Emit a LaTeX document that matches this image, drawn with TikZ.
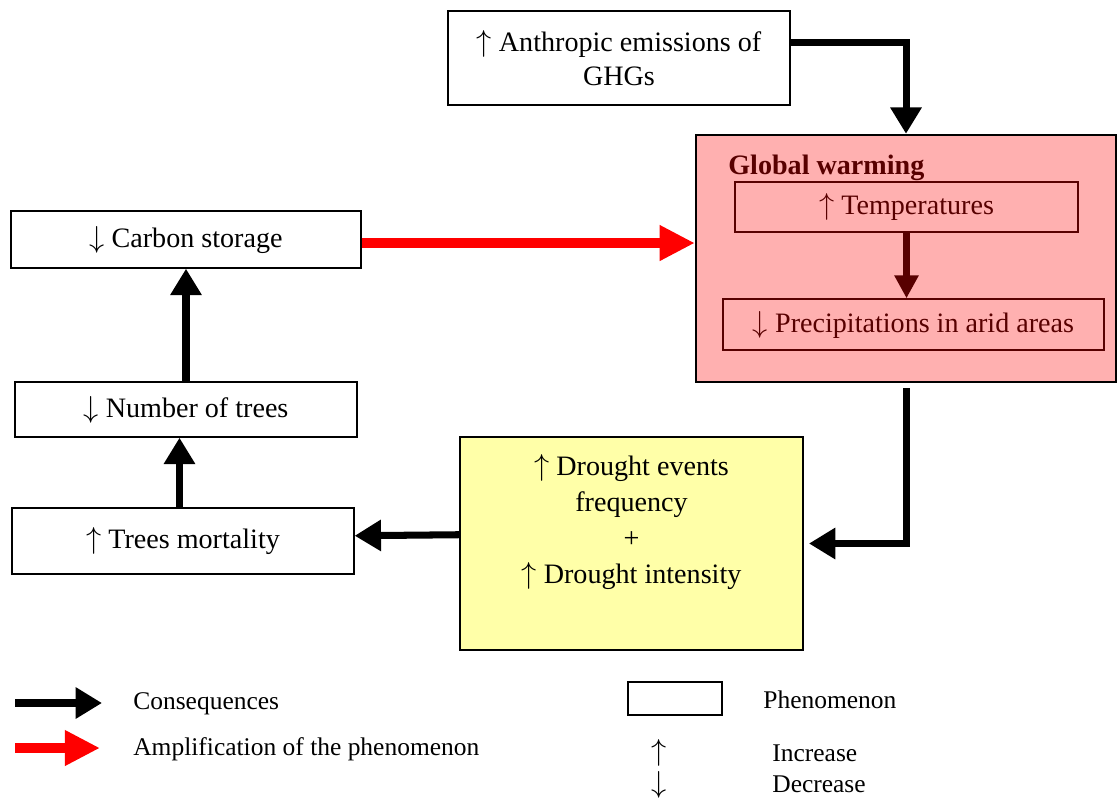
\documentclass[tikz,border=0pt]{standalone}
\usepackage{fontspec}
\setmainfont{Liberation Serif}
\usetikzlibrary{arrows.meta, positioning}

\definecolor{warmpink}{RGB}{255,176,176}
\definecolor{darkred}{RGB}{88,0,0}
\definecolor{droughtyellow}{RGB}{255,255,168}

\newcommand{\incr}{$\uparrow$}
\newcommand{\decr}{$\downarrow$}

\begin{document}
\begin{tikzpicture}[x=0.02cm,y=-0.02cm]

\tikzset{box/.style = {draw, line width=0.8pt, inner sep=0pt, align=center, font=\fontsize{16}{19.5}\selectfont}}
\tikzset{subbox/.style = {box, draw=darkred, text=darkred}}
\tikzset{conseq/.style = {line width=4pt, -{Triangle[length=15pt,width=17pt]}}}
\tikzset{ampli/.style = {red, line width=5.5pt, -{Triangle[length=20pt,width=19pt]}}}
\tikzset{inner/.style = {darkred, line width=4pt, -{Triangle[length=13pt,width=13pt]}}}
\tikzset{legend/.style = {anchor=west, inner sep=0pt, font=\fontsize{14.5}{17}\selectfont}}

\useasboundingbox (0,0) rectangle (1118,798);

% boxes
\node[box, minimum width=6.84cm, minimum height=1.88cm] (ghg) at (619,58) {\incr{} Anthropic emissions of\\GHGs};
\node[box, fill=warmpink, line width=1.4pt, minimum width=8.4cm, minimum height=4.94cm] (warming) at (906,258.5) {};
\node[anchor=west, inner sep=0pt, text=darkred, font=\fontsize{16}{20}\selectfont\bfseries] (title) at (728,168) {Global warming};
\node[subbox, minimum width=6.86cm, minimum height=1.0cm] (temp) at (906.5,207) {\incr{} Temperatures};
\node[subbox, minimum width=7.62cm, minimum height=1.02cm] (precip) at (913.5,324.5) {\decr{} Precipitations in arid areas};
\node[box, minimum width=7.0cm, minimum height=1.14cm] (carbon) at (186,239.5) {\decr{} Carbon storage};
\node[box, minimum width=6.84cm, minimum height=1.1cm] (trees) at (186,409.5) {\decr{} Number of trees};
\node[box, minimum width=6.84cm, minimum height=1.32cm] (mortality) at (183,541) {\incr{} Trees mortality};
\node[box, fill=droughtyellow, minimum width=6.86cm, minimum height=4.26cm] (drought) at (631.5,543.5) {};
\node[align=center, inner sep=0pt, font=\fontsize{16}{20.5}\selectfont] (droughttxt) at (631.5,522) {\incr{} Drought events\\frequency\\+\\\incr{} Drought intensity};

% arrows
\draw[conseq] ([yshift=9pt]ghg.east) -| (warming.north);
\draw[inner] (temp.south) -- (temp.south |- precip.north);
\draw[ampli] ([yshift=-2pt]carbon.east) -- ([yshift=-2pt]carbon.east -| warming.west);
\draw[conseq, shorten <=3pt, shorten >=3pt] (warming.south) |- (drought.east);
\draw[conseq] ([yshift=5pt]drought.west) -- ([yshift=3pt]mortality.east);
\draw[conseq] ([xshift=-2pt]mortality.north) -- ([xshift=-2pt]mortality.north |- trees.south);
\draw[conseq] (trees.north) -- (carbon.south);

% legend
\coordinate (cons1) at (15,703);
\coordinate (cons2) at (102,703);
\coordinate (ampl1) at (15,748);
\coordinate (ampl2) at (100,748);
\draw[conseq] (cons1) -- (cons2);
\draw[ampli] (ampl1) -- (ampl2);
\node[legend] (lcons) at (133,704) {Consequences};
\node[legend] (lampl) at (133,749) {Amplification of the phenomenon};
\node[draw, line width=1.2pt, minimum width=1.88cm, minimum height=0.66cm] (lbox) at (675,698.5) {};
\node[legend] (lphen) at (763,700) {Phenomenon};
\node[inner sep=0pt, font=\fontsize{16}{18}\selectfont] (lup) at (659,753) {\incr};
\node[inner sep=0pt, font=\fontsize{16}{18}\selectfont] (ldown) at (659,785) {\decr};
\node[legend] (linc) at (772,753) {Increase};
\node[legend] (ldec) at (772,784) {Decrease};
\end{tikzpicture}
\end{document}
